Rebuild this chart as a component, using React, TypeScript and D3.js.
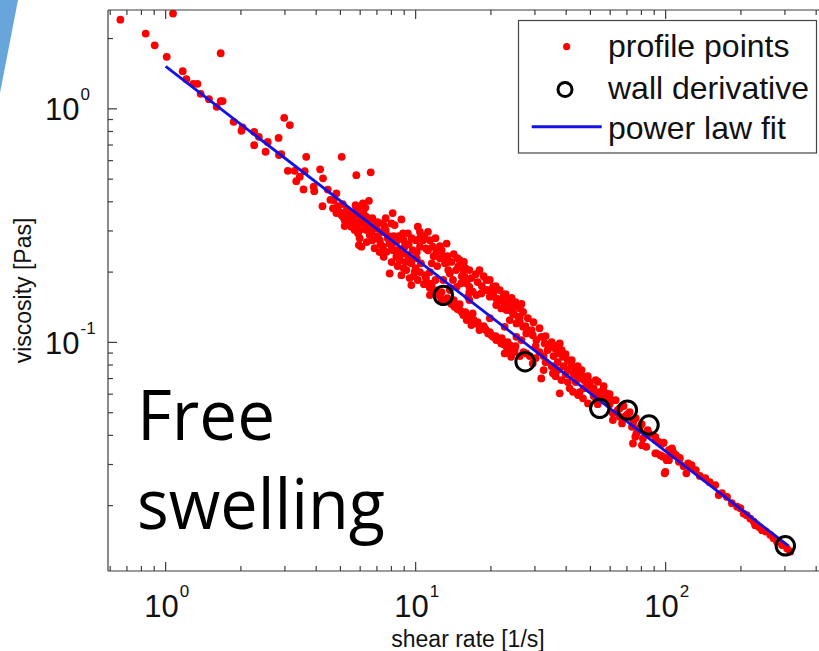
import React from "react";
import * as d3 from "d3";

// ---------- data (shear rate [1/s], viscosity [Pa s]) ----------
const profileLowShear: [number, number][] = [
  [0.659, 2.41], [1.07, 2.56], [0.832, 2.1], [0.904, 1.87], [1.01, 1.67], [1.66, 1.73],
  [1.17, 1.45], [1.21, 1.34], [1.29, 1.28], [1.34, 1.28], [1.38, 1.16], [1.49, 1.1],
  [1.6, 1.02], [1.66, 1.08], [1.69, 1.08], [1.87, 0.88], [2.03, 0.833], [2.01, 0.805],
  [2.26, 0.797], [2.26, 0.699], [2.36, 0.759], [2.51, 0.655], [2.56, 0.722], [2.83, 0.751],
  [2.98, 0.915], [3.14, 0.852], [2.84, 0.634], [2.9, 0.64], [3.08, 0.543], [3.28, 0.543],
  [3.33, 0.49], [3.44, 0.512], [3.6, 0.541], [3.65, 0.623], [3.56, 0.452], [3.91, 0.464],
  [3.93, 0.444], [4.15, 0.551], [4.26, 0.504], [4.45, 0.451], [4.82, 0.435], [5.06, 0.623],
  [4.24, 0.383], [4.56, 0.408], [4.67, 0.375], [4.82, 0.358], [5.79, 0.52], [6.61, 0.535],
  [5.75, 0.387], [6.29, 0.378], [6.5, 0.404], [6.19, 0.357], [6.71, 0.34], [5.12, 0.345],
  [5.53, 0.34], [5.2, 0.334], [5.36, 0.323], [5.53, 0.313], [5.7, 0.328], [5.79, 0.381],
  [5.88, 0.293], [5.93, 0.261], [5.05, 0.351], [5.61, 0.334], [5.88, 0.375], [6.15, 0.394],
  [6.35, 0.345], [5.79, 0.313], [5.97, 0.303], [6.07, 0.257], [6.35, 0.303], [6.55, 0.288],
  [6.71, 0.274], [6.97, 0.308], [7.4, 0.323], [7.52, 0.313], [8.0, 0.323], [8.24, 0.318],
  [8.77, 0.336], [7.18, 0.274], [7.4, 0.257], [7.64, 0.244], [7.45, 0.2325], [7.87, 0.265],
  [8.11, 0.248], [8.37, 0.27], [8.37, 0.2325], [8.63, 0.225], [8.9, 0.293], [9.04, 0.257],
  [9.31, 0.293], [9.31, 0.2365], [9.61, 0.218], [7.87, 0.1974], [8.77, 0.194], [9.18, 0.204],
  [9.61, 0.176], [9.91, 0.2005],
];

const profileMidShear: [number, number][] = [
  [10.2, 0.313], [10.4, 0.2975], [10.7, 0.274], [11.2, 0.2975], [10.4, 0.257], [11.0, 0.2525],
  [10.1, 0.229], [10.5, 0.218], [10.9, 0.194], [10.2, 0.185], [11.2, 0.179], [11.6, 0.218],
  [11.7, 0.257], [12.1, 0.244], [12.5, 0.229], [13.3, 0.265], [13.1, 0.218], [13.5, 0.204],
  [13.7, 0.1974], [12.9, 0.185], [11.9, 0.1675], [11.4, 0.1594], [12.7, 0.1518], [13.7, 0.1675],
  [14.1, 0.185], [14.6, 0.173], [15.0, 0.225], [14.8, 0.211], [15.5, 0.204], [15.7, 0.191],
  [15.2, 0.179], [16.0, 0.179], [16.4, 0.173], [16.9, 0.165], [17.5, 0.1594], [16.2, 0.157],
  [14.3, 0.142], [15.0, 0.1375], [15.5, 0.131], [16.0, 0.1246], [16.9, 0.133], [16.7, 0.1186],
  [17.5, 0.1206], [18.0, 0.113], [18.9, 0.1148], [19.5, 0.1093], [20.4, 0.1057], [21.0, 0.1023],
  [22.0, 0.099], [23.1, 0.0957], [23.8, 0.0912], [22.7, 0.0897], [24.1, 0.0868], [19.2, 0.185],
  [20.4, 0.173], [19.2, 0.1675], [18.3, 0.162], [19.8, 0.157], [21.0, 0.1543], [22.4, 0.157],
  [23.8, 0.1518], [21.0, 0.1445], [22.0, 0.1398], [23.1, 0.1375], [25.7, 0.142], [24.5, 0.133],
  [26.1, 0.1287], [26.9, 0.135], [25.3, 0.1206], [26.9, 0.1166], [25.3, 0.1057], [26.5, 0.1023],
  [27.7, 0.1093], [24.5, 0.0957], [27.7, 0.0897], [23.1, 0.147], [24.5, 0.142], [26.1, 0.1398],
  [25.7, 0.1287], [23.8, 0.1246], [22.7, 0.1166], [22.4, 0.1006], [23.8, 0.0974], [24.9, 0.0927],
];

const profileUpperShear: [number, number][] = [
  [28.6, 0.111], [29.4, 0.1074], [30.4, 0.1023], [31.8, 0.1057], [32.8, 0.099], [34.4, 0.0957],
  [36.0, 0.0943], [37.7, 0.099], [37.1, 0.0897], [38.8, 0.0868], [40.6, 0.084], [42.0, 0.08],
  [43.3, 0.0774], [45.3, 0.0748], [46.7, 0.0713], [48.2, 0.0678], [49.7, 0.0645], [51.2, 0.0625],
  [53.6, 0.0678], [56.1, 0.0625], [57.9, 0.0605], [29.4, 0.0813], [31.8, 0.0701], [35.4, 0.0737],
  [38.3, 0.069], [37.7, 0.0605], [41.3, 0.0636], [42.6, 0.0614], [44.6, 0.0595], [46.7, 0.0576],
  [48.9, 0.0548], [61.5, 0.0497], [61.5, 0.0465], [65.5, 0.048], [74.0, 0.045], [76.4, 0.0408],
  [81.1, 0.0388], [74.0, 0.0369], [83.7, 0.0357], [91.8, 0.0335], [97.5, 0.0324], [107, 0.034],
  [110, 0.0329], [101, 0.0313], [99.1, 0.0275], [123, 0.0303], [125, 0.0293], [121, 0.0275],
  [66.9, 0.045], [73.3, 0.0435], [75.6, 0.0394], [80.4, 0.0363], [90.9, 0.0394], [93.8, 0.0375],
  [98.2, 0.0372], [90.9, 0.0335], [95.2, 0.0329], [103, 0.0346], [106, 0.0352], [103, 0.0313],
  [99.7, 0.0279], [113, 0.0308], [127, 0.0298], [144, 0.0262], [158, 0.0245], [163, 0.0222],
  [168, 0.0226], [176, 0.0218], [184, 0.0205], [193, 0.0198], [199, 0.0195], [205, 0.0185],
  [211, 0.0182], [218, 0.0176], [225, 0.0171], [228, 0.0165], [236, 0.0162], [243, 0.0157],
  [251, 0.0155], [262, 0.015], [270, 0.0145], [279, 0.014], [292, 0.01356], [306, 0.0131],
  [315, 0.0127],
];

const profileLowerBand: [number, number][] = [
  [4.97, 0.361], [5.2, 0.315], [5.45, 0.347], [5.7, 0.303], [6.08, 0.327], [6.43, 0.315],
  [6.67, 0.297], [7.05, 0.285], [7.31, 0.297], [7.73, 0.2795], [8.02, 0.258], [8.47, 0.248],
  [8.79, 0.239], [9.12, 0.221], [9.64, 0.2296], [10.0, 0.208], [10.4, 0.2], [11.0, 0.1885],
  [11.6, 0.178], [12.0, 0.185], [12.5, 0.158], [13.2, 0.1518], [13.9, 0.146], [14.7, 0.139],
  [15.3, 0.135], [16.1, 0.1297], [17.1, 0.1246], [18.0, 0.1175], [19.1, 0.113], [20.1, 0.1074],
  [21.3, 0.1043], [22.5, 0.0983], [23.3, 0.0945], [24.7, 0.0909], [26.1, 0.0874], [11.4, 0.2],
  [13.7, 0.171], [16.4, 0.1518], [19.8, 0.127], [28.6, 0.0874], [30.2, 0.0857], [33.1, 0.0823],
  [35.0, 0.0791], [37.0, 0.0761], [39.8, 0.0731], [43.7, 0.0676], [47.0, 0.0637], [51.5, 0.0589],
  [54.5, 0.0578], [59.7, 0.0544], [64.3, 0.0513], [69.2, 0.0484], [78.7, 0.043], [86.3, 0.0405],
];

const profileUpperBand: [number, number][] = [
  [10.4, 0.2795], [11.4, 0.274], [12.0, 0.2795], [12.7, 0.248], [13.4, 0.234], [13.9, 0.221],
  [14.7, 0.2296], [15.6, 0.221], [16.4, 0.204], [17.4, 0.196], [18.0, 0.204], [18.7, 0.192],
  [19.8, 0.185], [20.9, 0.174], [21.7, 0.1675], [22.9, 0.161], [24.2, 0.155], [25.1, 0.1488],
  [26.5, 0.146], [28.1, 0.127], [29.6, 0.122], [31.3, 0.115], [33.1, 0.1064], [35.0, 0.1003],
  [36.3, 0.0964], [38.4, 0.0927], [39.8, 0.0891], [42.1, 0.084], [44.5, 0.0791], [46.1, 0.0761],
  [48.8, 0.0717], [52.5, 0.069], [56.5, 0.065], [59.7, 0.0601], [63.1, 0.0566], [67.9, 0.0534],
  [71.8, 0.0503], [75.9, 0.0474],
];

const profileDenseCore: [number, number][] = [
  [4.7, 0.407], [4.88, 0.383], [5.11, 0.391], [5.3, 0.368], [5.55, 0.358], [5.81, 0.354],
  [6.03, 0.337], [6.25, 0.321], [6.49, 0.334], [6.79, 0.315], [7.05, 0.327], [7.24, 0.2635],
  [7.59, 0.3025], [7.8, 0.285], [8.17, 0.285], [8.55, 0.285], [8.95, 0.274], [9.38, 0.2635],
  [9.73, 0.248], [10.1, 0.2435], [5.97, 0.2795], [6.37, 0.2688], [6.85, 0.2533], [7.18, 0.2435],
  [8.02, 0.2207], [8.47, 0.2122], [8.95, 0.208], [9.46, 0.1885], [9.82, 0.1922], [7.59, 0.3404],
  [8.09, 0.358], [9.64, 0.2795], [10.0, 0.274],
  [10.8, 0.285], [11.2, 0.248], [11.8, 0.234], [12.5, 0.2584], [12.9, 0.234], [13.4, 0.2207],
  [14.2, 0.2388], [14.5, 0.204], [15.3, 0.1922], [15.8, 0.208], [16.7, 0.1885], [17.7, 0.1812],
  [18.4, 0.1742], [19.4, 0.1675], [20.5, 0.1642], [21.7, 0.1518], [22.5, 0.1488], [23.8, 0.1375],
  [24.7, 0.1322], [26.1, 0.1221], [27.5, 0.1174], [29.1, 0.1129], [12.2, 0.2122], [16.4, 0.1642],
  [10.8, 0.1776], [11.4, 0.1708], [12.0, 0.1609], [12.7, 0.1642], [13.4, 0.1547], [14.2, 0.1518],
  [15.0, 0.1459], [15.8, 0.1348], [16.7, 0.1297], [17.7, 0.1221], [18.7, 0.1174], [19.8, 0.1107],
  [20.9, 0.1064], [22.1, 0.1043], [23.3, 0.1003], [25.1, 0.0964], [27.0, 0.0909],
  [30.2, 0.0964], [31.3, 0.0909], [32.5, 0.0874], [33.7, 0.0927], [35.6, 0.0874], [37.0, 0.0823],
  [39.1, 0.0791], [40.6, 0.0761], [42.9, 0.0731], [44.5, 0.0703], [47.0, 0.069], [49.7, 0.0676],
  [51.5, 0.0637], [54.5, 0.0613], [57.5, 0.0578], [60.8, 0.0566], [65.5, 0.0523], [70.5, 0.0493],
  [74.5, 0.0465], [80.2, 0.0447], [84.7, 0.0421], [91.2, 0.0382], [96.4, 0.0367], [32.5, 0.0761],
  [36.3, 0.0717], [40.6, 0.0676], [45.3, 0.0613], [53.5, 0.0544],
  [104, 0.0326], [114, 0.032], [118, 0.0295], [132, 0.0284], [137, 0.0268], [150, 0.0252],
];

const wallShear = [12.9, 27.4, 54.5, 70.3, 85.8, 301];
const wallViscosity = [0.159, 0.0826, 0.0522, 0.0513, 0.0443, 0.01346];

const fitShear = [1, 310];
const fitViscosity = [1.52, 0.01346];

const xMajorTicks = [1, 10, 100];
const xTickExponents = ["0", "1", "2"];
const yMajorTicks = [0.1, 1];
const yTickExponents = ["-1", "0"];

const legendLabels = ["profile points", "wall derivative", "power law fit"];
const annotationLines = ["Free", "swelling"];
const xTitle = "shear rate [1/s]";
const yTitle = "viscosity [Pas]";

const xDomain: [number, number] = [0.588, 450];
const yDomain: [number, number] = [0.0105, 2.65];

// ---------- layout ----------
const W = 819;
const H = 651;
const LEFT = 108;
const TOP = 10;
const BOTTOM = 571;
const X_DECADE = 250;
const AXIS = "#3c3c3c";
const FONT = "'Liberation Sans', Arial, Helvetica, sans-serif";

export default function App() {
  const right = LEFT + X_DECADE * Math.log10(xDomain[1] / xDomain[0]);
  const x = d3.scaleLog().domain(xDomain).range([LEFT, right]);
  const y = d3.scaleLog().domain(yDomain).range([BOTTOM, TOP]);

  const profile = [
    ...profileLowShear,
    ...profileMidShear,
    ...profileUpperShear,
    ...profileLowerBand,
    ...profileUpperBand,
    ...profileDenseCore,
  ];

  const minorOf = (dom: [number, number]) => {
    const out: number[] = [];
    for (let e = -3; e <= 3; e++) {
      for (let k = 2; k <= 9; k++) {
        const v = k * Math.pow(10, e);
        if (v > dom[0] && v < dom[1]) out.push(v);
      }
    }
    return out;
  };
  const xMinor = minorOf(xDomain);
  const yMinor = minorOf(yDomain);

  const fitLine = d3
    .line<number>()
    .x((d) => x(d))
    .y((_, i) => y(fitViscosity[i]))(fitShear);

  const MAJ = 9;
  const MIN = 5;

  return (
    <svg
      width={W}
      height={H}
      viewBox={`0 0 ${W} ${H}`}
      style={{ position: "absolute", left: 0, top: 0, background: "#fff", display: "block" }}
    >
      <rect x={0} y={0} width={W} height={H} fill="#fff" />
      <polygon points="0,0 18,0 0,93" fill="#67a5da" />

      <defs>
        <clipPath id="plotClip">
          <rect x={LEFT} y={TOP} width={right - LEFT} height={BOTTOM - TOP} />
        </clipPath>
      </defs>

      <g clipPath="url(#plotClip)">
        {profile.map((p, i) => (
          <circle key={i} cx={x(p[0])} cy={y(p[1])} r={3.9} fill="#ff0000" />
        ))}
        <path d={fitLine || ""} fill="none" stroke="#1212e8" strokeWidth={2.8} />
        {wallShear.map((s, i) => (
          <circle
            key={i}
            cx={x(s)}
            cy={y(wallViscosity[i])}
            r={9.2}
            fill="none"
            stroke="#000"
            strokeWidth={3}
          />
        ))}
      </g>

      {/* frame */}
      <g stroke={AXIS} strokeWidth={1.2} fill="none">
        <line x1={LEFT} y1={TOP} x2={LEFT} y2={BOTTOM} />
        <line x1={LEFT} y1={BOTTOM} x2={right} y2={BOTTOM} />
        <line x1={LEFT} y1={TOP} x2={right} y2={TOP} />
        <line x1={right} y1={TOP} x2={right} y2={BOTTOM} />
        {xMajorTicks.map((t) => (
          <g key={"xM" + t}>
            <line x1={x(t)} x2={x(t)} y1={BOTTOM} y2={BOTTOM - MAJ} />
            <line x1={x(t)} x2={x(t)} y1={TOP} y2={TOP + MAJ} />
          </g>
        ))}
        {xMinor.map((t) => (
          <g key={"xm" + t}>
            <line x1={x(t)} x2={x(t)} y1={BOTTOM} y2={BOTTOM - MIN} />
            <line x1={x(t)} x2={x(t)} y1={TOP} y2={TOP + MIN} />
          </g>
        ))}
        {yMajorTicks.map((t) => (
          <g key={"yM" + t}>
            <line x1={LEFT} x2={LEFT + MAJ} y1={y(t)} y2={y(t)} />
            <line x1={right} x2={right - MAJ} y1={y(t)} y2={y(t)} />
          </g>
        ))}
        {yMinor.map((t) => (
          <g key={"ym" + t}>
            <line x1={LEFT} x2={LEFT + MIN} y1={y(t)} y2={y(t)} />
            <line x1={right} x2={right - MIN} y1={y(t)} y2={y(t)} />
          </g>
        ))}
      </g>

      {/* tick labels */}
      <g fontFamily={FONT} fill="#111">
        {xMajorTicks.map((t, i) => (
          <text key={"xl" + t} x={x(t) + 1} y={617} fontSize={31} textAnchor="middle">
            10
            <tspan fontSize={17} dx={1} dy={-20}>
              {xTickExponents[i]}
            </tspan>
          </text>
        ))}
        {yMajorTicks.map((t, i) => (
          <text key={"yl" + t} x={45} y={y(t) + 11.5} fontSize={31} textAnchor="start">
            10
            <tspan fontSize={17} dx={1} dy={-20}>
              {yTickExponents[i]}
            </tspan>
          </text>
        ))}
        <text x={468} y={647} fontSize={23} textAnchor="middle">
          {xTitle}
        </text>
        <text transform={`translate(31, 290.5) rotate(-90)`} fontSize={23} textAnchor="middle">
          {yTitle}
        </text>
      </g>

      {/* legend */}
      <g>
        <rect x={518.5} y={20.5} width={298} height={132.5} fill="#fff" stroke="#444" strokeWidth={1.2} />
        <circle cx={566.7} cy={46.7} r={3.6} fill="#ff0000" />
        <circle cx={565} cy={89.5} r={7} fill="none" stroke="#000" strokeWidth={3} />
        <line x1={531.7} x2={601.7} y1={126.7} y2={126.7} stroke="#1212e8" strokeWidth={3} />
        <g fontFamily={FONT} fontSize={32} fill="#111">
          <text x={608} y={57}>{legendLabels[0]}</text>
          <text x={608} y={99}>{legendLabels[1]}</text>
          <text x={608} y={139}>{legendLabels[2]}</text>
        </g>
      </g>

      {/* annotation */}
      <g fontFamily="'Open Sans', Lato, sans-serif" fontWeight={400} fontSize={70} fill="#000">
        <text x={137} y={440} textLength={138} lengthAdjust="spacingAndGlyphs">
          {annotationLines[0]}
        </text>
        <text x={137} y={529} textLength={248} lengthAdjust="spacingAndGlyphs">
          {annotationLines[1]}
        </text>
      </g>
    </svg>
  );
}
